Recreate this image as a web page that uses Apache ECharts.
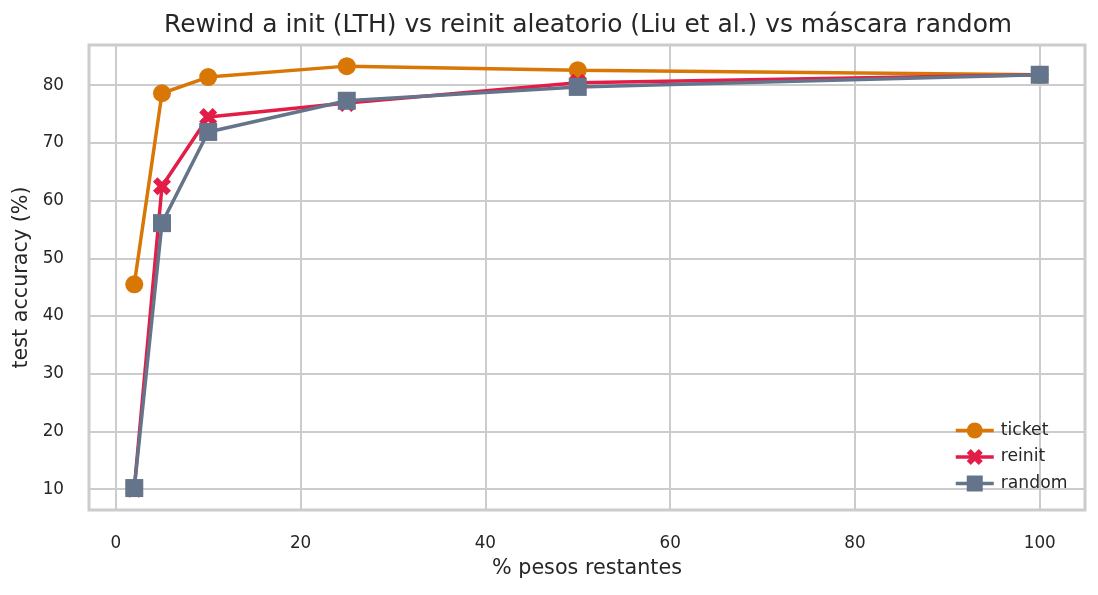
<!DOCTYPE html>
<html style="height: 100%">
  <head>
    <meta charset="utf-8" />
  </head>
  <body style="height: 100%; margin: 0; background: #fff">
    <div id="container" style="height: 100%"></div>

    <script
      type="text/javascript"
      src="https://fastly.jsdelivr.net/npm/echarts@6/dist/echarts.min.js"
    ></script>

    <script type="text/javascript">
      // % of weights remaining
      var pesos = [2, 5, 10, 25, 50, 100];
      var ticket = [45.5, 78.6, 81.4, 83.3, 82.6, 81.8];
      var reinit = [10.1, 62.5, 74.5, 76.9, 80.4, 81.8];
      var random = [10.2, 56.1, 71.9, 77.3, 79.7, 81.8];
      var xTicks = [0, 20, 40, 60, 80, 100];
      var yTicks = [10, 20, 30, 40, 50, 60, 70, 80];

      var FONT = "DejaVu Sans";
      var X_PATH =
        "path://M25,0L50,25L75,0L100,25L75,50L100,75L75,100L50,75L25,100L0,75L25,50L0,25Z";

      function pairs(ys) {
        return pesos.map(function (x, i) {
          return [x, ys[i]];
        });
      }

      function lineSeries(name, ys, color, symbol, size) {
        return {
          name: name,
          type: "line",
          data: pairs(ys),
          symbol: symbol,
          symbolSize: size,
          showAllSymbol: true,
          lineStyle: { color: color, width: 3.5 },
          itemStyle: { color: color, borderWidth: 0 },
          emphasis: { disabled: true },
        };
      }

      var dom = document.getElementById("container");
      var myChart = echarts.init(dom, null, { renderer: "canvas" });

      var option = {
        animation: false,
        textStyle: { fontFamily: FONT },
        title: {
          text: "Rewind a init (LTH) vs reinit aleatorio (Liu et al.) vs máscara random",
          left: 159,
          top: 8,
          textStyle: {
            fontFamily: FONT,
            fontSize: 24.9,
            fontWeight: "normal",
            color: "#262626",
          },
        },
        legend: {
          orient: "vertical",
          left: 949,
          top: 417,
          itemWidth: 38,
          itemHeight: 20,
          itemGap: 9.5,
          lineStyle: { width: 3.5 },
          textStyle: {
            fontFamily: FONT,
            fontSize: 17.2,
            color: "#262626",
            padding: [0, 0, 0, 2],
          },
          data: ["ticket", "reinit", "random"],
        },
        grid: {
          left: 89,
          right: 13,
          top: 45,
          bottom: 85,
          show: true,
          borderColor: "#cccccc",
          borderWidth: 3,
          backgroundColor: "#ffffff",
        },
        xAxis: {
          type: "value",
          min: -2.9,
          max: 104.9,
          name: "% pesos restantes",
          nameLocation: "middle",
          nameGap: 48,
          nameTextStyle: { fontFamily: FONT, fontSize: 20.7, color: "#262626" },
          axisLine: { show: false },
          axisTick: { show: false, customValues: xTicks },
          axisLabel: {
            customValues: xTicks,
            margin: 25,
            fontFamily: FONT,
            fontSize: 16.8,
            color: "#262626",
          },
          splitLine: { show: true, lineStyle: { color: "#cccccc", width: 2 } },
        },
        yAxis: {
          type: "value",
          min: 6.4,
          max: 86.96,
          name: "test accuracy (%)",
          nameLocation: "middle",
          nameGap: 51,
          nameTextStyle: { fontFamily: FONT, fontSize: 20.7, color: "#262626" },
          axisLine: { show: false },
          axisTick: { show: false, customValues: yTicks },
          axisLabel: {
            customValues: yTicks,
            margin: 25,
            fontFamily: FONT,
            fontSize: 16.8,
            color: "#262626",
          },
          splitLine: { show: true, lineStyle: { color: "#cccccc", width: 2 } },
        },
        series: [
          lineSeries("ticket", ticket, "#d97706", "circle", 18),
          lineSeries("reinit", reinit, "#e11d48", X_PATH, 18),
          lineSeries("random", random, "#64748b", "rect", 18),
        ],
      };

      myChart.setOption(option);
      window.addEventListener("resize", myChart.resize);
    </script>
  </body>
</html>
